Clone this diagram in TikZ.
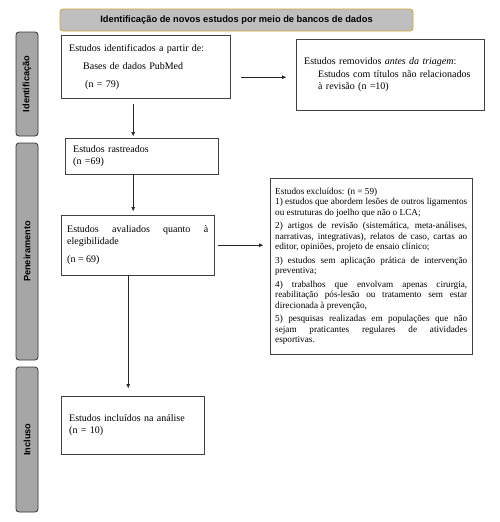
\documentclass[tikz,border=0pt]{standalone}
\usepackage{fontspec}
\setmainfont{Liberation Serif}
\setsansfont{Liberation Sans}
\usetikzlibrary{arrows.meta,positioning,calc}
\definecolor{barfill}{HTML}{A6A6A6}
\definecolor{headfill}{HTML}{BFBFBF}
\definecolor{headline}{HTML}{C9A43C}
\tikzset{
 box/.style={draw=black!75,anchor=north west,inner ysep=2pt,align=left,
  font=\fontsize{10}{12}\selectfont,execute at begin node={\hyphenpenalty=10000\exhyphenpenalty=10000}},
 bar/.style={draw=black!80,fill=barfill,rounded corners=3pt,line width=0.8pt,rotate=90,
  minimum height=22pt,inner sep=0pt,font=\sffamily\bfseries\fontsize{9.2}{10}\selectfont},
 arr/.style={-{Triangle[length=4pt,width=3.5pt]},black!85},
}
\begin{document}
\begin{tikzpicture}[x=1pt,y=-1pt]
\useasboundingbox (0,0) rectangle (499,522);
% phases on the left
\foreach \y/\h/\n/\t in {84/104/fase1/Identificação,251.5/217/fase2/Peneiramento,439.5/145/fase3/Incluso}
 {\node[bar,minimum width=\h pt](\n) at (27,\y){\t};}
\node[draw=headline,fill=headfill,line width=0.8pt,rounded corners=3pt,minimum width=353pt,minimum height=22pt,
 font=\sffamily\bfseries\fontsize{9.3}{10}\selectfont](head) at (236.5,20){Identificação de novos estudos por meio de bancos de dados};
% boxes
\node[box,inner xsep=8pt,text width=153pt,minimum height=63pt](ident) at (61,35)
 {Estudos identificados a partir de:\\[6pt]\hspace*{14pt}Bases de dados PubMed\\[6pt]\hspace*{16pt}(n = 79)};
\node[box,inner xsep=8pt,text width=172pt,minimum height=71pt](remov) at (296,39)
 {Estudos removidos \textit{antes da triagem}:\\[1pt]\hspace*{14pt}Estudos com títulos não relacionados\\\hspace*{14pt}à revisão (n =10)};
\node[box,inner xsep=8pt,text width=137pt,minimum height=36pt](rastr) at (65,138)
 {Estudos rastreados\\(n =69)};
\node[box,align=justify,inner xsep=6pt,text width=141pt,minimum height=60pt](aval) at (61,215)
 {Estudos avaliados quanto à elegibilidade\par\vspace{6pt}(n = 69)};
\node[box,align=justify,inner xsep=5pt,text width=192pt,minimum height=176pt,font=\fontsize{9.2}{10.5}\selectfont](excl) at (270,178)
 {Estudos excluídos: (n = 59)\par
 1) estudos que abordem lesões de outros ligamentos ou estruturas do joelho que não o LCA;\par\vspace{3pt}
 2) artigos de revisão (sistemática, meta-análises, narrativas, integrativas), relatos de caso, cartas ao editor, opiniões, projeto de ensaio clínico;\par\vspace{3pt}
 3) estudos sem aplicação prática de intervenção preventiva;\par\vspace{3pt}
 4) trabalhos que envolvam apenas cirurgia, reabilitação pós-lesão ou tratamento sem estar direcionada à prevenção,\par\vspace{3pt}
 5) pesquisas realizadas em populações que não\linebreak sejam praticantes regulares de atividades\linebreak esportivas.};
\node[box,inner xsep=8pt,text width=127pt,minimum height=58pt](incl) at (61,396)
 {Estudos incluídos na análise\\(n = 10)};
% arrows
\draw[arr,shorten <=11pt,shorten >=10pt]([yshift=-10.5pt]ident.east)--([yshift=-10.5pt]ident.east -| remov.west);
\draw[arr,shorten <=6pt,shorten >=2pt]([xshift=-12.5pt]ident.south)--([xshift=-12.5pt]ident.south |- rastr.north);
\draw[arr,shorten >=4pt]([xshift=-8.5pt]rastr.south)--([xshift=-8.5pt]rastr.south |- aval.north);
\draw[arr,shorten <=4pt,shorten >=7pt](aval.east)--(aval.east -| excl.west);
\draw[arr,shorten >=8pt]([xshift=-9.5pt]aval.south)--([xshift=-9.5pt]aval.south |- incl.north);
\end{tikzpicture}
\end{document}
